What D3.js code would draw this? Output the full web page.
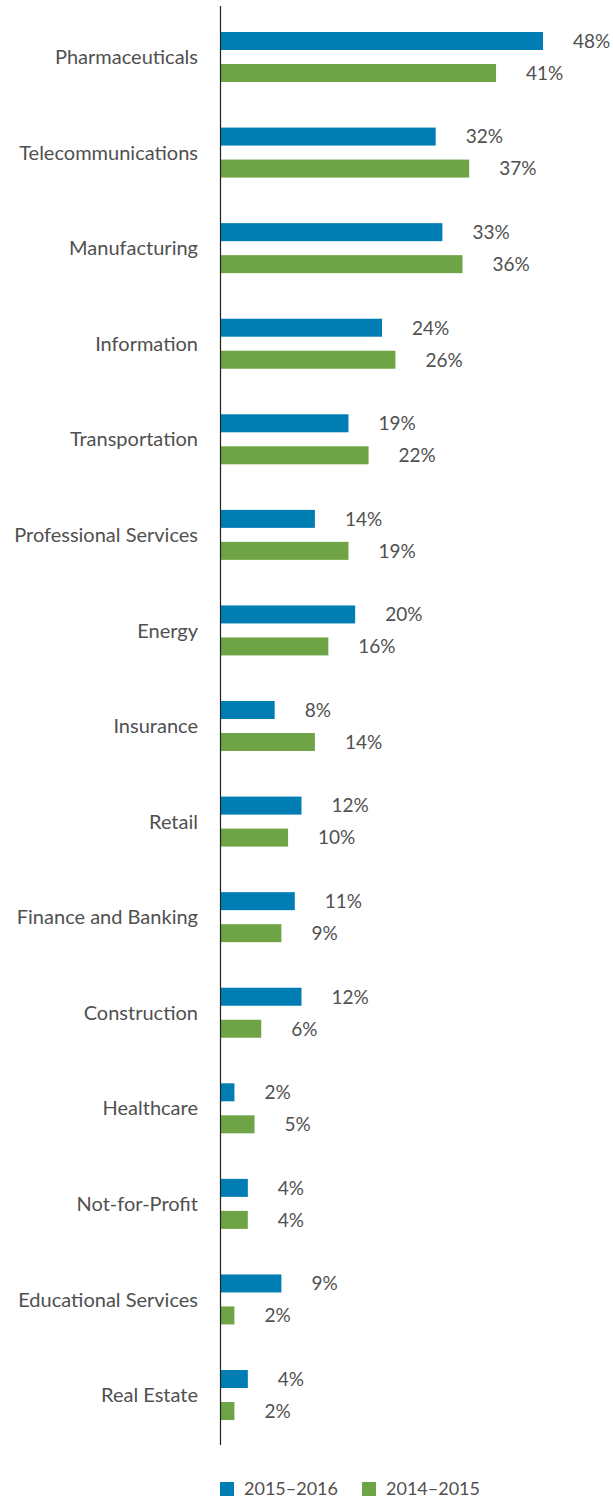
<!DOCTYPE html>
<html>
<head>
<meta charset="utf-8">
<script src="https://cdn.jsdelivr.net/npm/d3@7"></script>
<style>
  html, body { margin: 0; padding: 0; background: #fff; }
  svg text { font-family: Lato, "Open Sans", sans-serif; fill: #505050; }
</style>
</head>
<body>
<svg id="chart" width="613" height="1501"></svg>
<script>
// Industry categories, top to bottom
const categories = [
  "Pharmaceuticals", "Telecommunications", "Manufacturing", "Information",
  "Transportation", "Professional Services", "Energy", "Insurance", "Retail",
  "Finance and Banking", "Construction", "Healthcare", "Not-for-Profit",
  "Educational Services", "Real Estate"
];
// Share of respondents (%), by period
const values2015_2016 = [48, 32, 33, 24, 19, 14, 20, 8, 12, 11, 12, 2, 4, 9, 4];
const values2014_2015 = [41, 37, 36, 26, 22, 19, 16, 14, 10, 9, 6, 5, 4, 2, 2];
const seriesNames = ["2015–2016", "2014–2015"];
const seriesColors = ["#007db3", "#6fa446"];

const svg = d3.select("#chart");

const x = d3.scaleLinear().domain([0, 48]).range([221, 543]);
const y = d3.scaleBand().domain(categories).range([22, 1455.6]).paddingInner(0).paddingOuter(0);
const barH = 18;
const gap = 14;

const rows = categories.map((c, i) => ({
  cat: c,
  vals: [values2015_2016[i], values2014_2015[i]]
}));

const g = svg.append("g");

const row = g.selectAll("g.row").data(rows).join("g")
  .attr("class", "row")
  .attr("transform", d => `translate(0,${y(d.cat) + 10})`);

// Bars
row.selectAll("rect").data(d => d.vals.map((v, k) => ({ v, k }))).join("rect")
  .attr("x", x(0))
  .attr("y", d => d.k * (barH + gap))
  .attr("width", d => x(d.v) - x(0))
  .attr("height", barH)
  .attr("fill", d => seriesColors[d.k]);

// Value labels
row.selectAll("text.val").data(d => d.vals.map((v, k) => ({ v, k }))).join("text")
  .attr("class", "val")
  .attr("x", d => x(d.v) + 30)
  .attr("y", d => d.k * (barH + gap) + barH / 2)
  .attr("dy", "0.36em")
  .attr("font-size", 19)
  .text(d => d.v + "%");

// Category labels
row.append("text")
  .attr("x", 198)
  .attr("y", barH + gap / 2)
  .attr("dy", "0.36em")
  .attr("text-anchor", "end")
  .attr("font-size", 20)
  .text(d => d.cat);

// Vertical axis line
const yAxis = d3.axisLeft(y).tickSize(0).tickFormat("");
svg.append("g")
  .attr("transform", `translate(${x(0) - 0.5},0)`)
  .call(yAxis)
  .call(s => s.select(".domain").attr("d", "M0,6V1445").attr("stroke", "#222").attr("stroke-width", 1.2));

// Legend
const legendX = [220, 362];
const legend = svg.append("g").selectAll("g").data(seriesNames).join("g")
  .attr("transform", (d, i) => `translate(${legendX[i]},1482)`);
legend.append("rect").attr("width", 14).attr("height", 14)
  .attr("fill", (d, i) => seriesColors[i]);
legend.append("text").attr("x", 24).attr("y", 7).attr("dy", "0.36em")
  .attr("font-size", 18).text(d => d);
</script>
</body>
</html>
